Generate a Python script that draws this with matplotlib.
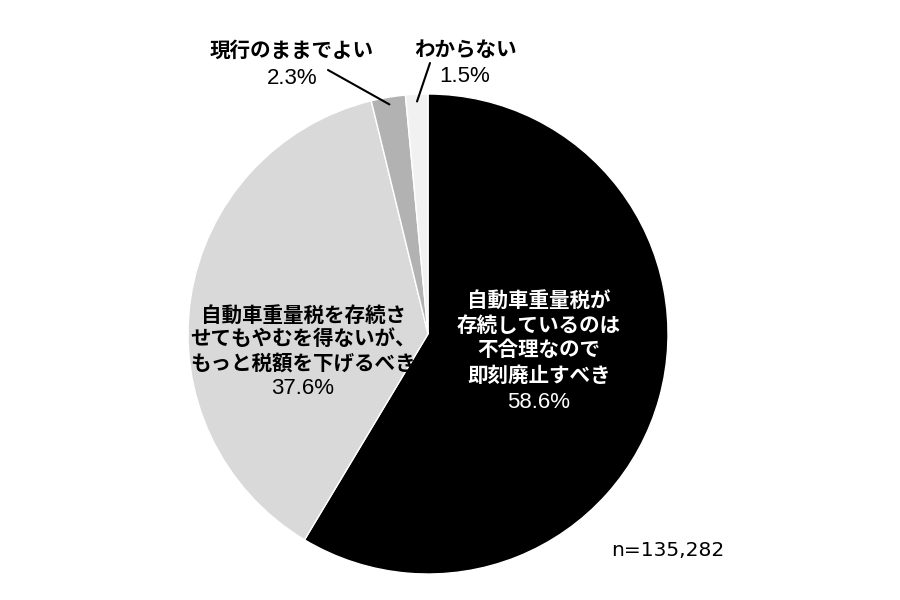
"""
Pie chart: opinions on the automobile weight tax (n=135,282)
"""
import matplotlib
matplotlib.use("Agg")
import numpy as np
import matplotlib.pyplot as plt

# data, clockwise from 12 o'clock
labels = [
    "自動車重量税が\n存続しているのは\n不合理なので\n即刻廃止すべき",
    "自動車重量税を存続さ\nせてもやむを得ないが、\nもっと税額を下げるべき",
    "現行のままでよい",
    "わからない",
]
shares = [58.6, 37.6, 2.3, 1.5]
colors = ["#000000", "#d9d9d9", "#b2b2b2", "#f1f1f1"]
sample_note = "n=135,282"

JP_FONT = ["Noto Sans CJK JP", "DejaVu Sans"]
NUM_FONT = ["Liberation Sans", "DejaVu Sans"]

W, H = 900, 600
fig = plt.figure(figsize=(9, 6), dpi=100)

# pie centre (428, 334) px, radius 240 px
cx, cy, r = 428, 334, 240
ax = fig.add_axes([(cx - r) / W, (H - cy - r) / H, 2 * r / W, 2 * r / H])
wedges, _ = ax.pie(shares, colors=colors, startangle=90, counterclock=False,
                   wedgeprops=dict(edgecolor="white", linewidth=1.0))
ax.set_xlim(-1, 1)
ax.set_ylim(-1, 1)
ax.set_aspect("equal")
ax.axis("off")


def fx(px):
    return px / W


def fy(py):
    return 1 - py / H


def put_block(text, pct, x, y0, step, pct_y, color):
    # one text object per line so the spacing matches the picture
    for i, line in enumerate(text.split("\n")):
        fig.text(fx(x), fy(y0 + i * step), line, ha="center", va="center",
                 fontsize=14.8, fontweight="bold", family=JP_FONT, color=color)
    fig.text(fx(x), fy(pct_y), f"{pct}%", ha="center", va="center",
             fontsize=16, family=NUM_FONT, color=color)


put_block(labels[0], shares[0], 539, 300, 25, 403, "white")
put_block(labels[1], shares[1], 303, 315, 24, 388, "black")
put_block(labels[2], shares[2], 292, 50, 28, 78, "black")
put_block(labels[3], shares[3], 465, 50, 28, 77, "black")

# leader lines for the two thin slices
for w, start_px in [(wedges[2], (328, 70)), (wedges[3], (430, 63))]:
    mid = np.deg2rad((w.theta1 + w.theta2) / 2)
    ax.annotate("", xy=(0.97 * np.cos(mid), 0.97 * np.sin(mid)),
                xytext=(fx(start_px[0]), fy(start_px[1])),
                textcoords="figure fraction",
                arrowprops=dict(arrowstyle="-", color="black", lw=1.5,
                                shrinkA=0, shrinkB=0))

fig.text(fx(668), fy(550), sample_note, ha="center", va="center",
         fontsize=14.5, family=["DejaVu Sans"], color="black")

fig.savefig("out.png", dpi=100, facecolor="white")
